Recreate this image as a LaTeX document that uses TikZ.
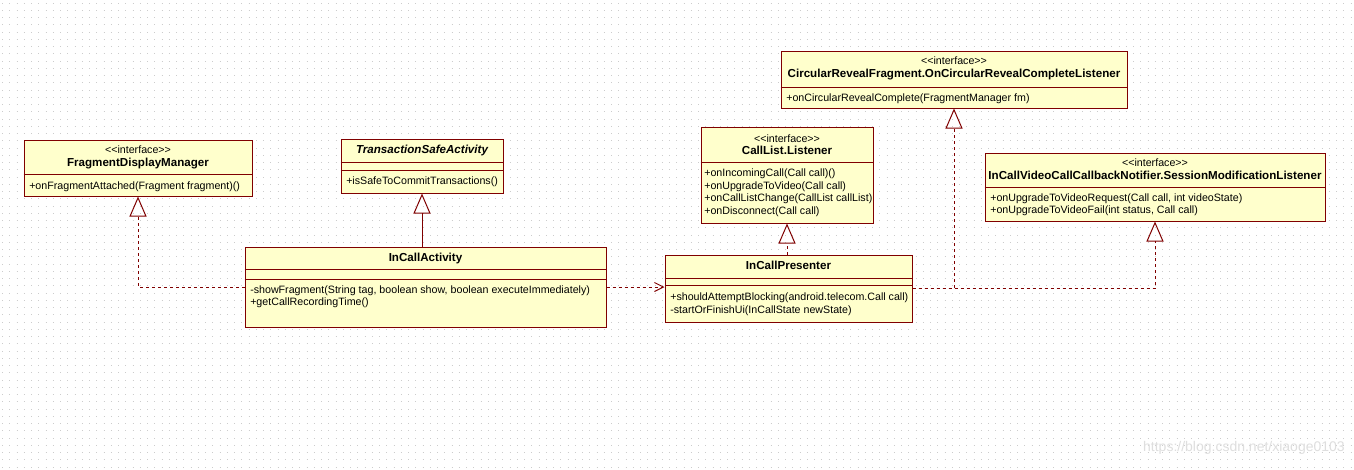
\documentclass[tikz,border=0pt]{standalone}
\usepackage{fontspec}
\newfontfamily\umlfont{Liberation Sans}
\usetikzlibrary{arrows.meta, fit}
\definecolor{umlred}{RGB}{128,0,0}
\definecolor{umlfill}{RGB}{255,255,204}

\begin{document}
\begin{tikzpicture}[x=0.75pt, y=-0.75pt,
  umlbox/.style={draw=umlred, fill=umlfill, line width=0.75pt, inner sep=0pt},
  umlline/.style={draw=umlred, line width=0.75pt},
  txt/.style={font=\umlfont\fontsize{8}{9}\selectfont, inner sep=0pt, text height=5.8pt, text depth=0pt},
  cname/.style={txt, font=\umlfont\fontsize{8.7}{9}\selectfont\bfseries},
  member/.style={txt, anchor=west},
  realize/.style={umlline, dash pattern=on 2.25pt off 2.25pt, -{Triangle[open, length=15pt, width=12.75pt]}},
  extend/.style={umlline, -{Triangle[open, length=15pt, width=12.75pt]}},
  depend/.style={umlline, dash pattern=on 2.25pt off 2.25pt, -{Straight Barb[length=6.75pt, width=6.75pt]}},
  griddot/.style={draw=black!20, line width=0.75pt, dash pattern=on 0.75pt off 4.6875pt}]
  \useasboundingbox[fill=white] (0,0) rectangle (1354,469);
  \foreach \r in {0,...,64}
    \draw[griddot] (2,{3+7.25*\r}) -- (1354,{3+7.25*\r});

  % FragmentDisplayManager
  \node[umlbox, fit={(24,140) (252,196)}] (fdm) {};
  \node[txt] (fdm-st) at (138,150) {<<interface>>};
  \node[cname] (fdm-nm) at (138,163) {FragmentDisplayManager};
  \draw[umlline] (fdm.west |- 0,174) -- (fdm.east |- 0,174);
  \node[member] (fdm-m1) at (29,186) {+onFragmentAttached(Fragment fragment)()};

  % TransactionSafeActivity
  \node[umlbox, fit={(341,139) (503,193)}] (tsa) {};
  \node[cname, font=\umlfont\fontsize{8.7}{9}\selectfont\bfseries\itshape] (tsa-nm) at (422,150) {TransactionSafeActivity};
  \draw[umlline] (tsa.west |- 0,162) -- (tsa.east |- 0,162);
  \draw[umlline] (tsa.west |- 0,170) -- (tsa.east |- 0,170);
  \node[member] (tsa-m1) at (346,181) {+isSafeToCommitTransactions()};

  % InCallActivity
  \node[umlbox, fit={(245,247) (606,327)}] (ica) {};
  \node[cname] (ica-nm) at (425.5,258) {InCallActivity};
  \draw[umlline] (ica.west |- 0,269) -- (ica.east |- 0,269);
  \draw[umlline] (ica.west |- 0,279) -- (ica.east |- 0,279);
  \node[member] (ica-m1) at (250,290) {-showFragment(String tag, boolean show, boolean executeImmediately)};
  \node[member] (ica-m2) at (250,302) {+getCallRecordingTime()};

  % InCallPresenter
  \node[umlbox, fit={(665,255) (912,322)}] (icp) {};
  \node[cname] (icp-nm) at (788.5,266) {InCallPresenter};
  \draw[umlline] (icp.west |- 0,278) -- (icp.east |- 0,278);
  \draw[umlline] (icp.west |- 0,285) -- (icp.east |- 0,285);
  \node[member] (icp-m1) at (670,297) {+shouldAttemptBlocking(android.telecom.Call call)};
  \node[member] (icp-m2) at (670,310) {-startOrFinishUi(InCallState newState)};

  % CallList.Listener
  \node[umlbox, fit={(701,127) (873,223)}] (cll) {};
  \node[txt] (cll-st) at (787,139) {<<interface>>};
  \node[cname] (cll-nm) at (787,151) {CallList.Listener};
  \draw[umlline] (cll.west |- 0,162) -- (cll.east |- 0,162);
  \node[member] (cll-m1) at (704,173) {+onIncomingCall(Call call)()};
  \node[member] (cll-m2) at (704,185.5) {+onUpgradeToVideo(Call call)};
  \node[member] (cll-m3) at (704,198) {+onCallListChange(CallList callList)};
  \node[member] (cll-m4) at (704,211) {+onDisconnect(Call call)};

  % CircularRevealFragment.OnCircularRevealCompleteListener
  \node[umlbox, fit={(781,51) (1127,108)}] (crf) {};
  \node[txt] (crf-st) at (954,61) {<<interface>>};
  \node[cname] (crf-nm) at (954,74) {CircularRevealFragment.OnCircularRevealCompleteListener};
  \draw[umlline] (crf.west |- 0,87) -- (crf.east |- 0,87);
  \node[member] (crf-m1) at (786,98) {+onCircularRevealComplete(FragmentManager fm)};

  % InCallVideoCallCallbackNotifier.SessionModificationListener
  \node[umlbox, fit={(985,153) (1325,221)}] (ivc) {};
  \node[txt] (ivc-st) at (1155,163) {<<interface>>};
  \node[cname] (ivc-nm) at (1155,176) {InCallVideoCallCallbackNotifier.SessionModificationListener};
  \draw[umlline] (ivc.west |- 0,187) -- (ivc.east |- 0,187);
  \node[member] (ivc-m1) at (990,198) {+onUpgradeToVideoRequest(Call call, int videoState)};
  \node[member] (ivc-m2) at (990,210) {+onUpgradeToVideoFail(int status, Call call)};

  % relations
  \draw[realize] (ica.west) -| (fdm.south);
  \draw[extend] (tsa.south |- ica.north) -- (tsa.south);
  \draw[depend] (ica.east) -- (ica.east -| icp.west);
  \draw[realize] (cll.south |- icp.north) -- (cll.south);
  \draw[realize] (icp.east) -| (crf.south);
  \draw[realize] (icp.east) -| (ivc.south);

  \node[anchor=east, inner sep=0pt, text=black!13, font=\umlfont\fontsize{10.5}{12}\selectfont] (wm) at (1345,448) {https://blog.csdn.net/xiaoge0103};
\end{tikzpicture}
\end{document}
